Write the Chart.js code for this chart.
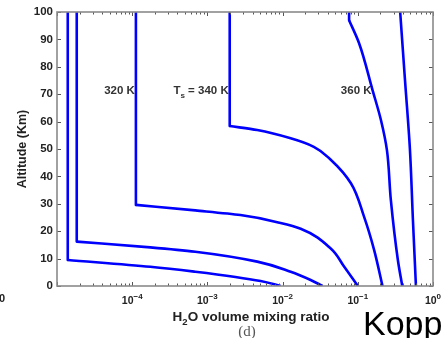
<!DOCTYPE html>
<html><head><meta charset="utf-8">
<script src="https://cdn.jsdelivr.net/npm/chart.js@4.4.0/dist/chart.umd.min.js"></script>
<style>html,body{margin:0;padding:0;background:#fff;overflow:hidden}</style>
</head><body>
<canvas id="c" width="442" height="338" style="display:block;width:442px;height:338px"></canvas>
<script>
// ---- data (mixing ratio vs altitude km) ----
const curve1Ratio = [1.39e-5, 1.39e-5, 1.74e-4, 6.9e-4, 2.36e-3, 5.1e-3, 9.4e-3];
const curve1Alt   = [100, 9.5, 7.0, 5.2, 3.3, 1.8, 0];
const curve2Ratio = [1.83e-5, 1.83e-5, 1.74e-4, 6.9e-4, 4.6e-3, 1.28e-2, 2.36e-2, 3.4e-2];
const curve2Alt   = [100, 16.2, 14.1, 12.5, 8.9, 5.2, 2.2, 0];
const curve3Ratio = [1.12e-4, 1.12e-4, 6.9e-4, 2.75e-3, 9.4e-3, 1.74e-2, 4.4e-2, 6.6e-2, 0.1];
const curve3Alt   = [100, 29.6, 27.6, 25.9, 23.0, 20.9, 13.6, 7.0, 0];
const curve4Ratio = [1.98e-3, 1.98e-3, 4.6e-3, 1.28e-2, 2.6e-2, 4.4e-2, 8.1e-2, 0.121, 0.165, 0.213];
const curve4Alt   = [100, 58.4, 56.9, 53.9, 50.8, 46.0, 37.5, 25.3, 13.1, 0];
const curve5Ratio = [0.0766, 0.0766, 0.104, 0.157, 0.203, 0.244, 0.275, 0.341, 0.39];
const curve5Alt   = [100, 97, 88.6, 71.5, 60.6, 49.6, 31.4, 9.5, 0];
const curve6Ratio = [0.366, 0.424, 0.493, 0.541, 0.593];
const curve6Alt   = [100, 75.2, 50, 24, 0];
const kinkIndex   = [1, 1, 1, 1, 1, 0];   // end of the straight vertical part of each curve

const curveLabels     = ['320 K', 'T|s| = 340 K', '360 K'];
const curveLabelRatio = [1.12e-4, 1.98e-3, 0.157];
const curveLabelAlt   = [71.5, 71.5, 71.5];

const xMajorTicks   = [1e-5, 1e-4, 1e-3, 1e-2, 1e-1, 1];
const xTickLabelVal = [1e-4, 1e-3, 1e-2, 1e-1, 1];
const xTickLabelExp = ['\u22124', '\u22123', '\u22122', '\u22121', '0'];
const yTickStep = 10;

const FAM = "'Liberation Sans', Arial, Helvetica, sans-serif";
const BLUE = '#0000ff';

const ratios = [curve1Ratio, curve2Ratio, curve3Ratio, curve4Ratio, curve5Ratio, curve6Ratio];
const alts   = [curve1Alt, curve2Alt, curve3Alt, curve4Alt, curve5Alt, curve6Alt];
const datasets = [];
ratios.forEach((r, i) => {
  const pts = r.map((v, j) => ({x: v, y: alts[i][j]}));
  const k = kinkIndex[i];
  if (k > 0) datasets.push({data: pts.slice(0, k + 1), tension: 0});
  datasets.push({data: pts.slice(k), tension: 0.4, cubicInterpolationMode: 'monotone'});
});
datasets.forEach(d => Object.assign(d, {showLine: true, borderColor: BLUE, borderWidth: 2.6,
  pointRadius: 0, fill: false, borderCapStyle: 'butt', borderJoinStyle: 'round'}));

const deco = {
  id: 'deco',
  afterDraw(chart) {
    const c = chart.ctx, a = chart.chartArea, xs = chart.scales.x, ys = chart.scales.y;
    c.save();
    // tick marks (inward)
    c.strokeStyle = '#555'; c.lineWidth = 1;
    c.beginPath();
    for (let v = 0; v <= 100; v += yTickStep) {
      const y = Math.round(ys.getPixelForValue(v)) + 0.5;
      c.moveTo(a.left, y); c.lineTo(a.left + 4, y);
      c.moveTo(a.right, y); c.lineTo(a.right - 4, y);
    }
    xMajorTicks.forEach((d, i) => {
      const x = Math.round(xs.getPixelForValue(d)) + 0.5;
      c.moveTo(x, a.bottom); c.lineTo(x, a.bottom - 4);
      c.moveTo(x, a.top); c.lineTo(x, a.top + 4);
      if (i < xMajorTicks.length - 1) {
        for (let m = 2; m <= 9; m++) {
          const xm = Math.round(xs.getPixelForValue(m * d)) + 0.5;
          c.moveTo(xm, a.bottom); c.lineTo(xm, a.bottom - 2.5);
          c.moveTo(xm, a.top); c.lineTo(xm, a.top + 2.5);
        }
      }
    });
    c.stroke();
    // axes box
    c.strokeStyle = '#8a8a8a'; c.lineWidth = 1.6;
    c.strokeRect(a.left, a.top, a.right - a.left, a.bottom - a.top);

    // x tick labels 10^n
    c.fillStyle = '#222'; c.textBaseline = 'alphabetic';
    xTickLabelVal.forEach((v, i) => {
      const x = xs.getPixelForValue(v);
      c.font = "bold 10.5px " + FAM;
      const w1 = c.measureText('10').width;
      c.font = "bold 8px " + FAM;
      const w2 = c.measureText(xTickLabelExp[i]).width;
      const x0 = x - (w1 + w2) / 2;
      c.font = "bold 10.5px " + FAM; c.textAlign = 'left';
      c.fillText('10', x0, 304);
      c.font = "bold 8px " + FAM;
      c.fillText(xTickLabelExp[i], x0 + w1, 299);
    });

    // x axis title with subscript
    const parts = [['H', 13.5, 0], ['2', 9.5, 3.5], ['O volume mixing ratio', 13.5, 0]];
    let tot = 0;
    parts.forEach(p => { c.font = "bold " + p[1] + "px " + FAM; tot += c.measureText(p[0]).width; });
    let xx = 251 - tot / 2;
    parts.forEach(p => { c.font = "bold " + p[1] + "px " + FAM; c.fillText(p[0], xx, 321 + p[2]); xx += c.measureText(p[0]).width; });

    // (d)
    c.fillStyle = '#555'; c.font = "15px 'Liberation Serif', 'Times New Roman', serif"; c.textAlign = 'center';
    c.fillText('(d)', 247, 336);

    // curve labels
    c.fillStyle = '#333';
    curveLabels.forEach((t, i) => {
      const x = xs.getPixelForValue(curveLabelRatio[i]) - 1;
      const y = ys.getPixelForValue(curveLabelAlt[i]) + 4;
      const segs = t.split('|');
      const specs = segs.length === 3 ? [[segs[0], 11.5, 0], [segs[1], 8, 4], [segs[2], 11.5, 0]] : [[t, 11.5, 0]];
      let w = 0;
      specs.forEach(s => { c.font = "bold " + s[1] + "px " + FAM; w += c.measureText(s[0]).width; });
      let px = x - w; c.textAlign = 'left';
      specs.forEach(s => { c.font = "bold " + s[1] + "px " + FAM; c.fillText(s[0], px, y + s[2]); px += c.measureText(s[0]).width; });
    });

    // slide remnants
    c.fillStyle = '#222'; c.font = "bold 11px " + FAM; c.textAlign = 'left';
    c.fillText('0', -1, 302);
    c.fillStyle = '#000'; c.font = "34px " + FAM;
    c.fillText('Kopp', 363, 335);
    c.restore();
  }
};

new Chart(document.getElementById('c'), {
  type: 'scatter',
  data: {datasets},
  options: {
    responsive: false, animation: false, devicePixelRatio: 1,
    indexAxis: 'y',
    layout: {padding: {top: 12, right: 9, left: 0, bottom: 0}},
    plugins: {legend: {display: false}, tooltip: {enabled: false}},
    scales: {
      x: {type: 'logarithmic', min: 1e-5, max: 1,
          grid: {display: false, tickLength: 0}, border: {display: false}, ticks: {display: false},
          afterFit(s) { s.height = 52; }},
      y: {type: 'linear', min: 0, max: 100,
          grid: {display: false, tickLength: 0}, border: {display: false},
          ticks: {stepSize: yTickStep, color: '#222', padding: 4, font: {family: FAM, size: 11.5, weight: 'bold'}},
          title: {display: true, text: 'Altitude (Km)', color: '#222',
                  font: {family: FAM, size: 12.5, weight: 'bold'}, padding: {top: 15, bottom: 0}},
          afterFit(s) { s.width = 57; }}
    }
  },
  plugins: [deco]
});
</script>
</body></html>
